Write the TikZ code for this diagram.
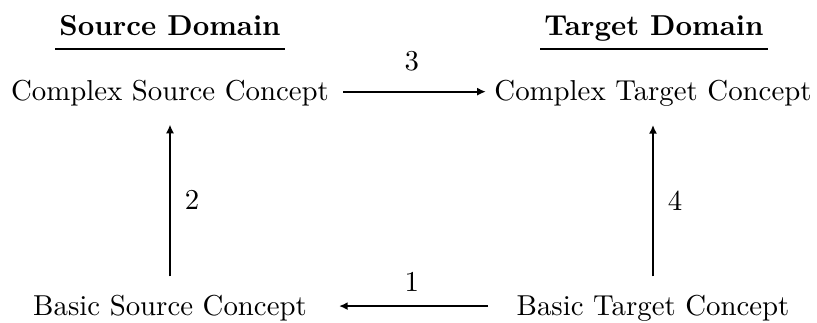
\documentclass[tikz,border=0pt]{standalone}
\usetikzlibrary{arrows.meta}
\begin{document}
\begin{tikzpicture}[x=0.347pt,y=-0.347pt,
  concept/.style={inner sep=0pt,anchor=base},
  heading/.style={inner sep=0pt,anchor=base,font=\bfseries},
  rule/.style={line width=0.75pt},
  arr/.style={line width=0.75pt,-{Latex[length=3pt,width=2.8pt]}},
  num/.style={inner sep=0pt}]
  \useasboundingbox (0,0) rectangle (817,322);

  % domain headings with their underlines
  \node[heading] (sd) at (170,35) {Source Domain};
  \node[heading] (td) at (654,35) {Target Domain};
  \draw[rule] ([xshift=-1.2pt,yshift=-4.9pt]sd.base west) -- ([xshift=1.2pt,yshift=-4.9pt]sd.base east);
  \draw[rule] ([xshift=-1.2pt,yshift=-4.9pt]td.base west) -- ([xshift=1.2pt,yshift=-4.9pt]td.base east);

  % concepts
  \node[concept] (cs) at (170,100) {Complex Source Concept};
  \node[concept] (ct) at (653,100) {Complex Target Concept};
  \node[concept] (bs) at (170,315) {Basic Source Concept};
  \node[concept] (bt) at (653,315) {Basic Target Concept};

  % mappings
  \draw[arr,shorten <=9.7pt,shorten >=11pt]
    ([yshift=3.1pt]bt.base west) -- node[num,midway,above=4.6pt] (n1) {1} ([yshift=3.1pt]bs.base east);
  \draw[arr,shorten <=6.2pt,shorten >=6.4pt]
    (bs.north) -- node[num,midway,right=4.8pt] (n2) {2} (cs.south);
  \draw[arr,shorten <=4.8pt,shorten >=2.8pt]
    ([yshift=2.9pt]cs.base east) -- node[num,midway,above=6.6pt] (n3) {3} ([yshift=2.9pt]ct.base west);
  \draw[arr,shorten <=6.2pt,shorten >=6.4pt]
    (bt.north) -- node[num,midway,right=4.8pt] (n4) {4} (ct.south);
\end{tikzpicture}
\end{document}
